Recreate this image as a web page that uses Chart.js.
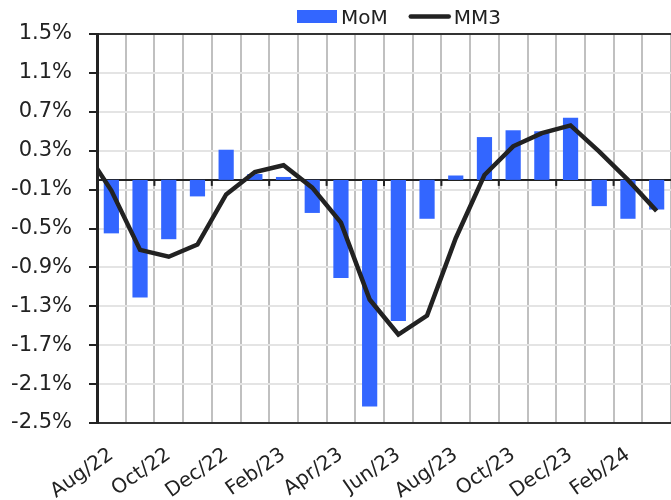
<!DOCTYPE html>
<html>
<head>
<meta charset="utf-8">
<script src="https://cdn.jsdelivr.net/npm/chart.js@4/dist/chart.umd.min.js"></script>
<style>
  html, body { margin: 0; padding: 0; background: #ffffff; }
  #wrap { width: 671px; height: 500px; }
</style>
</head>
<body>
<div id="wrap"><canvas id="c" width="671" height="500"></canvas></div>
<script>
// Categories (Jul/22 lies just outside the visible range; only its MM3 segment enters the plot)
const months = ['Jul/22','Aug/22','Sep/22','Oct/22','Nov/22','Dec/22','Jan/23','Feb/23','Mar/23','Apr/23',
                'May/23','Jun/23','Jul/23','Aug/23','Sep/23','Oct/23','Nov/23','Dec/23','Jan/24','Feb/24','Mar/24'];
const firstVisible = 'Aug/22';
// Series values (%)
const momValues = [null, -0.55, -1.21, -0.61, -0.17, 0.31, 0.06, 0.03, -0.34, -1.01,
                   -2.33, -1.45, -0.40, 0.045, 0.44, 0.51, 0.50, 0.64, -0.27, -0.40, -0.305];
const mm3Values = [0.34, -0.11, -0.72, -0.79, -0.665, -0.15, 0.08, 0.15, -0.08, -0.44,
                   -1.23, -1.59, -1.395, -0.60, 0.05, 0.345, 0.48, 0.56, 0.29, 0.0, -0.32];
// Tick labels
const yTickValues = [-2.5, -2.1, -1.7, -1.3, -0.9, -0.5, -0.1, 0.3, 0.7, 1.1, 1.5];
const xTickLabels = ['Aug/22','Oct/22','Dec/22','Feb/23','Apr/23','Jun/23','Aug/23','Oct/23','Dec/23','Feb/24'];

const FONT = 'DejaVu Sans';
const TEXT = '#222222';

const zeroAxisPlugin = {
  id: 'zeroAxis',
  beforeDatasetsDraw(chart) {
    const { ctx, chartArea, scales } = chart;
    const x = scales.x, y = scales.y;
    const y0 = y.getPixelForValue(0);
    ctx.save();
    ctx.strokeStyle = '#222222';
    ctx.lineWidth = 2;
    ctx.beginPath();
    ctx.moveTo(chartArea.left, y0);
    ctx.lineTo(chartArea.right, y0);
    ctx.stroke();
    xTickLabels.forEach(lbl => {
      const idx = months.indexOf(lbl);
      if (lbl === firstVisible) return;
      const px = (x.getPixelForValue(idx - 1) + x.getPixelForValue(idx)) / 2;
      ctx.beginPath();
      ctx.moveTo(px, y0);
      ctx.lineTo(px, y0 + 6);
      ctx.stroke();
    });
    ctx.restore();
  }
};

// Legend drawn in the style of the source (swatch, small gap, label)
const legendPlugin = {
  id: 'customLegend',
  afterDraw(chart) {
    const { ctx } = chart;
    const ds = chart.data.datasets;
    ctx.save();
    ctx.font = '20px "' + FONT + '"';
    ctx.textBaseline = 'alphabetic';
    ctx.textAlign = 'left';
    let cx = 297;
    const cy = 16.5;
    ds.forEach(d => {
      if (d.type === 'bar') {
        ctx.fillStyle = d.backgroundColor;
        ctx.fillRect(cx, cy - 6.5, 40, 13);
        cx += 40 + 4;
      } else {
        ctx.strokeStyle = d.borderColor;
        ctx.lineWidth = d.borderWidth;
        ctx.lineCap = 'round';
        ctx.beginPath();
        ctx.moveTo(cx + 2, cy);
        ctx.lineTo(cx + 40, cy);
        ctx.stroke();
        cx += 43 + 2;
      }
      ctx.fillStyle = TEXT;
      ctx.fillText(d.label, cx, 23.5);
      cx += ctx.measureText(d.label).width + 21;
    });
    ctx.restore();
  }
};

new Chart(document.getElementById('c'), {
  data: {
    labels: months,
    datasets: [
      {
        type: 'bar',
        label: 'MoM',
        data: momValues,
        backgroundColor: '#3366ff',
        borderWidth: 0,
        categoryPercentage: 1,
        barPercentage: 0.53,
        order: 1
      },
      {
        type: 'line',
        label: 'MM3',
        data: mm3Values,
        borderColor: '#222222',
        backgroundColor: '#222222',
        borderWidth: 4.5,
        pointRadius: 0,
        pointHoverRadius: 0,
        tension: 0,
        order: 0
      }
    ]
  },
  options: {
    responsive: false,
    animation: false,
    devicePixelRatio: 1,
    layout: { padding: { top: 34, right: -4, bottom: 0, left: 0 } },
    plugins: {
      tooltip: { enabled: false },
      legend: { display: false }
    },
    scales: {
      x: {
        type: 'category',
        min: firstVisible,
        offset: true,
        grid: {
          offset: true,
          color: '#c0c0c0',
          lineWidth: 2,
          drawTicks: false
        },
        border: { display: true, color: '#333333', width: 2 },
        ticks: {
          autoSkip: false,
          minRotation: 35,
          maxRotation: 35,
          padding: 20,
          color: TEXT,
          font: { family: FONT, size: 20 },
          callback: function (value) {
            const lbl = months[value];
            return xTickLabels.includes(lbl) ? lbl : '';
          }
        },
        afterFit: s => { s.height = 77; s.paddingLeft = 0; s.paddingRight = 0; }
      },
      y: {
        type: 'linear',
        min: yTickValues[0],
        max: yTickValues[yTickValues.length - 1],
        afterBuildTicks: s => { s.ticks = yTickValues.map(v => ({ value: v })); },
        grid: {
          color: c => (c.tick && c.tick.value === yTickValues[yTickValues.length - 1]) ? '#333333' : '#e4e4e4',
          lineWidth: 2,
          tickColor: '#222222',
          tickLength: 8,
          tickWidth: 2
        },
        border: { display: true, color: '#222222', width: 3 },
        ticks: {
          padding: 17,
          color: TEXT,
          font: { family: FONT, size: 21 },
          callback: v => Number(v).toFixed(1) + '%'
        },
        afterFit: s => { s.width = 97; }
      }
    }
  },
  plugins: [zeroAxisPlugin, legendPlugin]
});
</script>
</body>
</html>
